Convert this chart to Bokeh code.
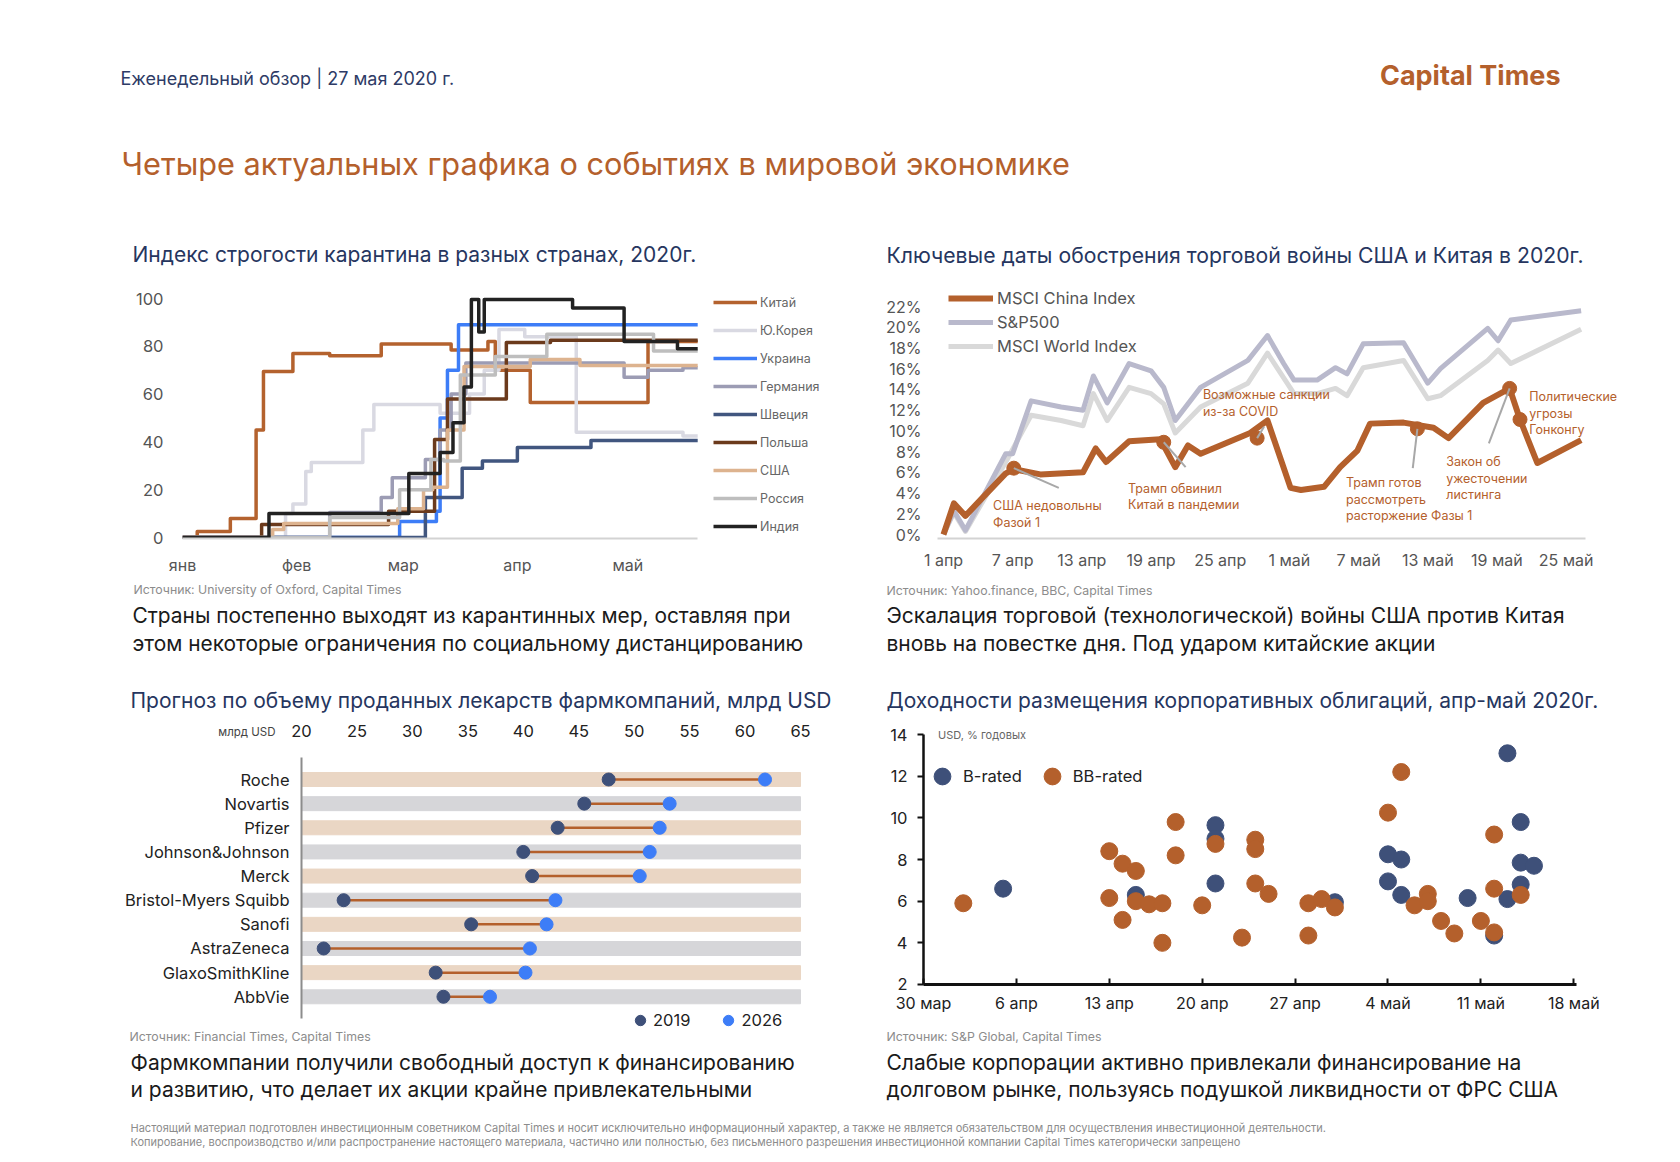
from bokeh.plotting import figure
from bokeh.models import Range1d, FixedTicker, Legend, LegendItem, Label
from bokeh.layouts import column, row
from bokeh.embed import file_html
from bokeh.resources import INLINE
from bokeh.core.properties import value

FONT = "Inter"
NAVY = "#26365F"
ORANGE = "#B4602C"
DOT19 = "#3E5079"
DOT26 = "#3D7DF7"
GRAYTXT = "#8C8C8C"
CAPTION = "#1A1A1A"

# ---------------- chart 1: lockdown stringency (day of 2020, index) ----------------
tl_names = ["Китай", "Ю.Корея", "Украина", "Германия", "Швеция", "Польша", "США", "Россия", "Индия"]
tl_colors = ["#B4622E", "#D9D9E2", "#3D7DF7", "#9C9CB4", "#41567F", "#6B3A1C", "#DDB38F", "#BEBEBE", "#222222"]
china_d = [0, 4, 13, 20, 22, 30, 40, 54, 73, 83, 85, 94.5, 126.5, 140]
china_v = [0, 2.5, 8, 45, 69.5, 77, 76, 81, 78.5, 82, 70, 56.5, 82, 82]
korea_d = [0, 28, 30, 33.5, 35, 49, 52, 70, 78, 82, 86, 93, 107, 136, 140]
korea_v = [0, 10, 14, 27.6, 31.4, 45, 55.6, 52, 60, 70, 87, 84, 44, 42.5, 42.5]
ukraine_d = [0, 59, 69, 70, 72, 75, 140]
ukraine_v = [0, 6.7, 11, 50, 70, 89, 89]
germany_d = [0, 40, 54, 57, 66, 70, 73, 77, 120, 126.5, 136, 140]
germany_v = [0, 10.5, 16.7, 25, 32.6, 45, 60, 73, 67, 70, 71, 71]
sweden_d = [0, 66, 76, 81.5, 91, 111, 140]
sweden_v = [0, 16.7, 29, 32, 37.7, 40.6, 40.6]
poland_d = [0, 21.5, 56, 68.5, 72, 88, 100, 140]
poland_v = [0, 5.4, 11, 41, 58, 81.6, 82.5, 82.5]
usa_d = [0, 24.5, 27.5, 58.5, 65.5, 68, 72, 76.5, 94.5, 108, 140]
usa_v = [0, 3.3, 5.9, 12, 20, 21, 45, 71.5, 74.5, 72, 72]
russia_d = [0, 40, 59, 67.5, 71, 75.5, 85, 99, 128, 140]
russia_v = [0, 8.4, 20, 32.6, 32, 68, 75.7, 85, 78, 78]
india_d = [0, 23.5, 61.5, 70, 73.5, 76.5, 78.5, 80.5, 82, 106, 120, 134.5, 140]
india_v = [0, 10, 26.8, 35.6, 48, 63, 99.6, 86, 99.6, 96, 82, 79, 79]
tl_series = [(china_d, china_v), (korea_d, korea_v), (ukraine_d, ukraine_v), (germany_d, germany_v),
             (sweden_d, sweden_v), (poland_d, poland_v), (usa_d, usa_v), (russia_d, russia_v), (india_d, india_v)]
tl_month_ticks = [0, 31, 60, 91, 121]
tl_month_labels = ["янв", "фев", "мар", "апр", "май"]
tl_y_ticks = [0, 20, 40, 60, 80, 100]

# ---------------- chart 2: indices (days since 1 Apr, %) ----------------
msci_china_d = [0, 0.9, 1.9, 3.6, 5.4, 6.1, 8.4, 12.1, 13.2, 14.1, 16.1, 18.8, 20.1, 21.2, 22.3, 26.6, 28.1,
                30.1, 31.0, 33.0, 34.4, 35.9, 37.0, 39.9, 42.5, 43.8, 46.8, 49.1, 50.0, 51.5, 55.3]
msci_china_v = [0, 3.0, 1.8, 3.8, 5.9, 6.3, 5.8, 6.0, 8.3, 7.0, 9.0, 9.2, 6.5, 8.6, 7.8, 9.8, 11.0,
                4.5, 4.3, 4.6, 6.5, 8.1, 10.7, 10.8, 10.3, 9.3, 12.7, 14.1, 11.1, 6.9, 9.1]
sp500_d = [0, 0.9, 1.9, 5.4, 6.0, 7.6, 10.2, 12.1, 13.0, 14.2, 16.1, 18.0, 19.1, 20.1, 22.3, 26.4, 28.1,
           29.5, 30.4, 32.4, 34.0, 35.0, 36.4, 39.9, 42.0, 43.1, 47.2, 48.1, 49.2, 55.3]
sp500_v = [0, 2.3, 0.4, 7.8, 7.8, 12.9, 12.3, 12.0, 15.3, 12.7, 16.5, 15.8, 14.2, 11.0, 14.2, 16.8, 19.2,
           16.5, 14.9, 14.9, 16.1, 15.5, 18.4, 18.5, 14.6, 16.0, 19.9, 18.7, 20.7, 21.6]
world_d = [0, 0.9, 1.9, 5.4, 7.6, 10.2, 12.1, 13.0, 14.2, 16.1, 18.0, 19.1, 20.1, 22.3, 26.4, 28.1,
           30.4, 32.4, 34.0, 35.0, 36.4, 39.9, 42.0, 43.1, 47.2, 48.1, 49.2, 55.3]
world_v = [0, 2.1, 0.3, 7.0, 11.5, 11.0, 10.5, 13.6, 11.0, 14.2, 13.6, 12.6, 9.8, 12.3, 14.6, 17.5,
           13.6, 13.6, 14.1, 13.4, 16.1, 16.8, 13.1, 13.4, 16.8, 17.8, 16.5, 19.8]
tr_ticks = [0, 6, 12, 18, 24, 30, 36, 42, 48, 54]
tr_tick_labels = ["1 апр", "7 апр", "13 апр", "19 апр", "25 апр", "1 май", "7 май", "13 май", "19 май", "25 май"]
tr_y_ticks = [0, 2, 4, 6, 8, 10, 12, 14, 16, 18, 20, 22]
event_d = [6.1, 19.1, 27.2, 41.1, 49.1, 50.0]
event_v = [6.4, 8.9, 9.3, 10.2, 14.1, 11.1]
leader_d = [10.0, 21.0, 27.8, 40.7, 47.3, 50.0]
leader_v = [4.5, 6.5, 10.4, 6.4, 8.8, 11.1]
event_text = [["США недовольны", "Фазой 1"], ["Трамп обвинил", "Китай в пандемии"],
              ["Возможные санкции", "из-за COVID"], ["Трамп готов", "рассмотреть", "расторжение Фазы 1"],
              ["Закон об", "ужесточении", "листинга"], ["Политические", "угрозы", "Гонконгу"]]
event_text_d = [4.3, 16.0, 22.5, 34.9, 43.6, 50.8]
event_text_v = [2.8, 4.45, 13.5, 5.0, 7.05, 13.3]

# ---------------- chart 3: pharma sales (bn USD) ----------------
pharma = ["Roche", "Novartis", "Pfizer", "Johnson&Johnson", "Merck", "Bristol-Myers Squibb",
          "Sanofi", "AstraZeneca", "GlaxoSmithKline", "AbbVie"]
sales_2019 = [47.7, 45.5, 43.1, 40.0, 40.8, 23.8, 35.3, 22.0, 32.1, 32.8]
sales_2026 = [61.8, 53.2, 52.3, 51.4, 50.5, 42.9, 42.1, 40.6, 40.2, 37.0]
bl_x_ticks = [20, 25, 30, 35, 40, 45, 50, 55, 60, 65]

# ---------------- chart 4: bond yields (days since 30 Mar, %) ----------------
b_d = [6, 16, 22, 22, 22, 31, 35, 35, 36, 36, 41, 43, 44, 44, 45, 45, 45, 46]
b_v = [6.6, 6.3, 9.65, 9.0, 6.85, 5.95, 8.25, 6.95, 8.0, 6.3, 6.15, 4.35, 6.1, 13.1, 9.8, 7.85, 6.8, 7.7]
bb_d = [3, 14, 15, 16, 14, 16, 17, 18, 15, 18, 19, 19, 21, 22, 24, 25, 25, 25, 26, 29, 30, 31, 29,
        36, 35, 37, 38, 38, 39, 40, 42, 43, 43, 43, 45]
bb_v = [5.9, 8.4, 7.8, 7.45, 6.15, 6.0, 5.85, 5.9, 5.1, 4.0, 9.8, 8.2, 5.8, 8.75, 4.25, 8.95, 8.5, 6.85,
        6.35, 5.9, 6.1, 5.7, 4.35, 12.2, 10.25, 5.8, 6.35, 6.0, 5.05, 4.45, 5.05, 4.5, 9.2, 6.6, 6.3]
br_ticks = [0, 7, 14, 21, 28, 35, 42, 49]
br_tick_labels = ["30 мар", "6 апр", "13 апр", "20 апр", "27 апр", "4 май", "11 май", "18 май"]
br_y_ticks = [2, 4, 6, 8, 10, 12, 14]


def base_fig(w, h, xr, yr, left, right, top, bottom, **kw):
    p = figure(width=w, height=h, x_range=xr, y_range=yr, toolbar_location=None,
               output_backend="svg", min_border_left=left, min_border_right=right,
               min_border_top=top, min_border_bottom=bottom, outline_line_color=None, **kw)
    p.grid.visible = False
    p.background_fill_color = "white"
    p.border_fill_color = "white"
    return p


def style_axis(ax, size, color, standoff):
    ax.major_label_text_font = FONT
    ax.major_label_text_font_size = f"{size}px"
    ax.major_label_text_color = color
    ax.major_label_standoff = standoff
    ax.minor_tick_line_color = None
    ax.minor_tick_out = 0
    ax.minor_tick_in = 0


def no_ticks(ax):
    ax.major_tick_line_color = None
    ax.major_tick_out = 0
    ax.major_tick_in = 0


def text_fig(w, h, items):
    p = figure(width=w, height=h, x_range=Range1d(0, w), y_range=Range1d(h, 0),
               x_axis_type=None, y_axis_type=None, toolbar_location=None,
               output_backend="svg", min_border=0, outline_line_color=None)
    p.background_fill_color = "white"
    p.border_fill_color = "white"
    for (x, y, txt, size, color, style, align) in items:
        p.text(x=[x], y=[y], text=[txt], text_font=value(FONT), text_font_size=f"{size}px",
               text_color=color, text_font_style=style, text_align=align, text_baseline="middle")
    return p


def add_text(p, x, y, txt, size, color, align="left"):
    p.text(x=[x], y=[y], text=[txt], text_font=value(FONT), text_font_size=f"{size}px",
           text_color=color, text_align=align, text_baseline="middle")


# ---------- header (page y 0..280) ----------
header = text_fig(1672, 280, [
    (120, 78, "Еженедельный обзор | 27 мая 2020 г.", 18, "#2E3B66", "normal", "left"),
    (1560, 75, "Capital Times", 27, ORANGE, "bold", "right"),
    (121, 163, "Четыре актуальных графика о событиях в мировой экономике", 30.7, ORANGE, "normal", "left"),
    (132, 254, "Индекс строгости карантина в разных странах, 2020г.", 21, NAVY, "normal", "left"),
    (886, 254, "Ключевые даты обострения торговой войны США и Китая в 2020г.", 21.2, NAVY, "normal", "left"),
])

# ---------- TL chart (page y 280..580) ----------
tl = base_fig(822, 300, Range1d(0, 173.37), Range1d(-0.418, 105.44), 182, 2, 5, 42)
items = []
for name, color, (d, v) in zip(tl_names, tl_colors, tl_series):
    r = tl.step(d, v, mode="after", line_width=3.5, line_color=color, line_join="round")
    items.append(LegendItem(label=name, renderers=[r]))
tl.xaxis.ticker = FixedTicker(ticks=tl_month_ticks)
tl.xaxis.major_label_overrides = {t: l for t, l in zip(tl_month_ticks, tl_month_labels)}
tl.xaxis.axis_line_color = "#D3D3D3"
tl.xaxis.axis_line_width = 2
tl.xaxis.bounds = (0, 140)
no_ticks(tl.xaxis)
style_axis(tl.xaxis, 16, "#555555", 16)
tl.yaxis.ticker = FixedTicker(ticks=tl_y_ticks)
tl.yaxis.axis_line_color = None
no_ticks(tl.yaxis)
style_axis(tl.yaxis, 16.5, "#555555", 19)
tl_leg = Legend(items=items, location=(531, 2), glyph_width=44, glyph_height=20, label_height=20,
                spacing=8, label_standoff=3, padding=0, margin=0, border_line_color=None,
                background_fill_alpha=0, label_text_font=FONT, label_text_font_size="12.5px",
                label_text_color="#666666")
tl.add_layout(tl_leg)

# ---------- TR chart ----------
tr = base_fig(850, 300, Range1d(-0.52, 60.45), Range1d(-0.386, 24.03), 115, 32, 5, 42)
rw = tr.line(world_d, world_v, line_width=5, line_color="#D9D9D9", line_join="round")
rs = tr.line(sp500_d, sp500_v, line_width=5, line_color="#B9B9CC", line_join="round")
rc = tr.line(msci_china_d, msci_china_v, line_width=6, line_color=ORANGE, line_join="round")
tr.scatter(event_d, event_v, size=14, color=ORANGE)
tr.segment(event_d, event_v, leader_d, leader_v, line_color="#A8A8A8", line_width=2)
for lines, xd, yv in zip(event_text, event_text_d, event_text_v):
    tr.text(x=[xd] * len(lines), y=[yv - 1.6 * i for i in range(len(lines))], text=lines,
            text_font=value(FONT), text_font_size="12.5px", text_color=ORANGE,
            text_align="left", text_baseline="middle")
tr.xaxis.ticker = FixedTicker(ticks=tr_ticks)
tr.xaxis.major_label_overrides = {t: l for t, l in zip(tr_ticks, tr_tick_labels)}
tr.xaxis.axis_line_color = "#D3D3D3"
tr.xaxis.axis_line_width = 2
tr.xaxis.bounds = (-0.52, 55.7)
no_ticks(tr.xaxis)
style_axis(tr.xaxis, 16, "#555555", 11)
tr.yaxis.ticker = FixedTicker(ticks=tr_y_ticks)
tr.yaxis.major_label_overrides = {t: f"{t}%" for t in tr_y_ticks}
tr.yaxis.axis_line_color = None
no_ticks(tr.yaxis)
style_axis(tr.yaxis, 16, "#555555", 16)
tr_leg = Legend(items=[LegendItem(label="MSCI China Index", renderers=[rc]),
                       LegendItem(label="S&P500", renderers=[rs]),
                       LegendItem(label="MSCI World Index", renderers=[rw])],
                location=(11, 180), glyph_width=45, glyph_height=24, label_height=24, spacing=0,
                label_standoff=4, padding=0, margin=0, border_line_color=None, background_fill_alpha=0,
                label_text_font=FONT, label_text_font_size="16.5px", label_text_color="#555555")
tr.add_layout(tr_leg)

# ---------- middle text band (page y 580..715) ----------
mid = text_fig(1672, 135, [
    (133, 9, "Источник: University of Oxford, Capital Times", 12.3, GRAYTXT, "normal", "left"),
    (886, 10, "Источник: Yahoo.finance, BBC, Capital Times", 12.3, GRAYTXT, "normal", "left"),
    (132, 35, "Страны постепенно выходят из карантинных мер, оставляя при", 20.9, CAPTION, "normal", "left"),
    (132, 63, "этом некоторые ограничения по социальному дистанцированию", 20.9, CAPTION, "normal", "left"),
    (886, 35, "Эскалация торговой (технологической) войны США против Китая", 21, CAPTION, "normal", "left"),
    (886, 63, "вновь на повестке дня. Под ударом китайские акции", 21, CAPTION, "normal", "left"),
    (130, 120, "Прогноз по объему проданных лекарств фармкомпаний, млрд USD", 21, NAVY, "normal", "left"),
    (886, 120, "Доходности размещения корпоративных облигаций, апр-май 2020г.", 21, NAVY, "normal", "left"),
])

# ---------- BL chart (page y 715..1046) ----------
bl = base_fig(822, 331, Range1d(2.777, 66.35), Range1d(11.06, -2.444), 110, 7, 5, 0,
              x_axis_location="above")
idx = list(range(len(pharma)))
band_colors = ["#EAD6C4" if i % 2 == 0 else "#D6D6D9" for i in idx]
bl.hbar(y=idx, left=bl_x_ticks[0], right=bl_x_ticks[-1], height=0.58, color=band_colors)
bl.segment(sales_2019, idx, sales_2026, idx, line_color=ORANGE, line_width=2.5)
r19 = bl.scatter(sales_2019, idx, size=13, color=DOT19)
r26 = bl.scatter(sales_2026, idx, size=13, color=DOT26)
bl.yaxis.ticker = FixedTicker(ticks=idx)
bl.yaxis.major_label_overrides = {i: n for i, n in zip(idx, pharma)}
bl.yaxis.fixed_location = bl_x_ticks[0]
bl.yaxis.axis_line_color = "#8C8C8C"
bl.yaxis.axis_line_width = 2
bl.yaxis.bounds = (-0.911, 9.9)
no_ticks(bl.yaxis)
style_axis(bl.yaxis, 16.5, "#222222", 12)
bl.xaxis.ticker = FixedTicker(ticks=bl_x_ticks)
bl.xaxis.fixed_location = -1.616
bl.xaxis.axis_line_color = None
no_ticks(bl.xaxis)
style_axis(bl.xaxis, 16.5, "#222222", 3)
add_text(bl, 17.66, -1.947, "млрд USD", 11.5, "#444444", "right")
add_text(bl, 4.49, 10.646, "Источник: Financial Times, Capital Times", 12.3, GRAYTXT)
bl_leg = Legend(items=[LegendItem(label="2019", renderers=[r19]), LegendItem(label="2026", renderers=[r26])],
                orientation="horizontal", location=(517, 11), glyph_width=26, glyph_height=30,
                label_height=30, spacing=25, label_standoff=0, padding=0, margin=0,
                border_line_color=None, background_fill_alpha=0, label_text_font=FONT,
                label_text_font_size="16.5px", label_text_color="#222222")
bl.add_layout(bl_leg)

# ---------- BR chart ----------
br = base_fig(850, 331, Range1d(-3.24, 51.39), Range1d(-0.977, 14.674), 58, 67, 5, 0)
rb = br.scatter(b_d, b_v, size=17, color=DOT19)
rbb = br.scatter(bb_d, bb_v, size=17, color=ORANGE)
br.xaxis.ticker = FixedTicker(ticks=br_ticks)
br.xaxis.major_label_overrides = {t: l for t, l in zip(br_ticks, br_tick_labels)}
br.xaxis.fixed_location = br_y_ticks[0]
br.xaxis.bounds = (0, 49.2)
br.xaxis.axis_line_color = "#111111"
br.xaxis.axis_line_width = 3
br.xaxis.major_tick_line_color = "#111111"
br.xaxis.major_tick_line_width = 2
br.xaxis.major_tick_in = 6
br.xaxis.major_tick_out = 0
style_axis(br.xaxis, 16, "#222222", 9)
br.yaxis.ticker = FixedTicker(ticks=br_y_ticks)
br.yaxis.fixed_location = br_ticks[0]
br.yaxis.bounds = (2, 14)
br.yaxis.axis_line_color = "#111111"
br.yaxis.axis_line_width = 2.5
br.yaxis.major_tick_line_color = "#111111"
br.yaxis.major_tick_line_width = 2
br.yaxis.major_tick_in = 0
br.yaxis.major_tick_out = 6
style_axis(br.yaxis, 16.5, "#222222", 10)
br.add_layout(Label(x=1.1, y=14, text="USD, % годовых", text_font=FONT, text_font_size="11px",
                    text_color="#666666", text_align="left", text_baseline="middle"))
add_text(br, -2.79, -0.496, "Источник: S&P Global, Capital Times", 12.3, GRAYTXT)
br_leg = Legend(items=[LegendItem(label="B-rated", renderers=[rb]), LegendItem(label="BB-rated", renderers=[rbb])],
                orientation="horizontal", location=(41, 249), glyph_width=42, glyph_height=42,
                label_height=42, spacing=9, label_standoff=0, padding=0, margin=0,
                border_line_color=None, background_fill_alpha=0, label_text_font=FONT,
                label_text_font_size="16.5px", label_text_color="#222222")
br.add_layout(br_leg)

# ---------- footer band (page y 1046..1154) ----------
footer = text_fig(1672, 108, [
    (130, 16, "Фармкомпании получили свободный доступ к финансированию", 21, CAPTION, "normal", "left"),
    (130, 43, "и развитию, что делает их акции крайне привлекательными", 21, CAPTION, "normal", "left"),
    (886, 16, "Слабые корпорации активно привлекали финансирование на", 21, CAPTION, "normal", "left"),
    (886, 43, "долговом рынке, пользуясь подушкой ликвидности от ФРС США", 21, CAPTION, "normal", "left"),
    (130, 81, "Настоящий материал подготовлен инвестиционным советником Capital Times и носит исключительно "
              "информационный характер, а также не является обязательством для осуществления инвестиционной деятельности.",
     11, GRAYTXT, "normal", "left"),
    (130, 95, "Копирование, воспроизводство и/или распространение настоящего материала, частично или полностью, "
              "без письменного разрешения инвестиционной компании Capital Times категорически запрещено",
     11, GRAYTXT, "normal", "left"),
])

layout = column(header, row(tl, tr), mid, row(bl, br), footer)
open("out.html", "w").write(file_html(layout, INLINE))
